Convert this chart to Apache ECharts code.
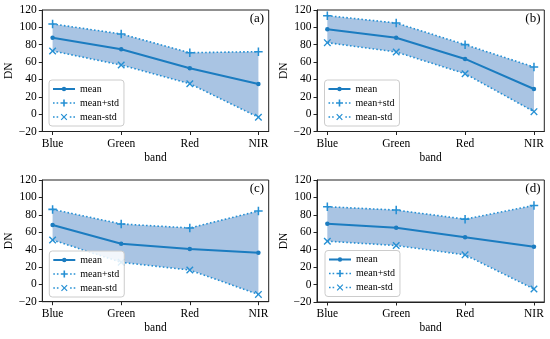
<!DOCTYPE html>
<html>
<head>
<meta charset="utf-8">
<script src="https://cdn.jsdelivr.net/npm/echarts@6/dist/echarts.min.js"></script>
<style>
html,body{margin:0;padding:0;background:#fff;}
#c{width:550px;height:339px;}
</style>
</head>
<body>
<div id="c"></div>
<script>
// ---- data ----
const categories = ['Blue', 'Green', 'Red', 'NIR'];
const yTicks = [-20, 0, 20, 40, 60, 80, 100, 120];
const panelLabels = ['(a)', '(b)', '(c)', '(d)'];

const meanA  = [88.1, 74.7, 52.8, 34.8];
const upperA = [103.9, 92.4, 70.8, 72.0];
const lowerA = [72.8, 56.6, 35.1, -3.6];

const meanB  = [97.8, 88.1, 63.6, 29.0];
const upperB = [113.5, 105.0, 80.1, 54.3];
const lowerB = [82.4, 71.6, 46.6, 2.9];

const meanC  = [68.2, 46.7, 40.6, 36.4];
const upperC = [86.2, 69.4, 64.8, 84.3];
const lowerC = [51.0, 25.3, 16.4, -11.6];

const meanD  = [69.8, 65.1, 54.4, 43.3];
const upperD = [89.3, 85.5, 75.1, 90.8];
const lowerD = [49.8, 44.8, 34.1, -5.1];

const panels = [
  {mean: meanA, upper: upperA, lower: lowerA},
  {mean: meanB, upper: upperB, lower: lowerB},
  {mean: meanC, upper: upperC, lower: lowerC},
  {mean: meanD, upper: upperD, lower: lowerD}
];

// ---- layout / style ----
const FONT = '"Liberation Serif", "Times New Roman", serif';
const lineColor = '#1b7cc0';
const dotColor = '#2690d4';
const fillColor = '#a9c4e3';
const axisColor = '#222';
const gridBoxes = [
  {left: 42.3, top: 10, width: 226.4, height: 121.5},
  {left: 317, top: 10, width: 227.3, height: 121.5},
  {left: 42.3, top: 180, width: 226.4, height: 121.7},
  {left: 317, top: 180, width: 227.3, height: 122}
];
const legendPos = [
  {left: 49, top: 80},
  {left: 324.5, top: 80},
  {left: 49.3, top: 251},
  {left: 325, top: 250.5}
];
const plusPath = 'path://M4.1,0H5.9V4.1H10V5.9H5.9V10H4.1V5.9H0V4.1H4.1Z';
const xPts = [[0,1.3],[1.3,0],[5,3.7],[8.7,0],[10,1.3],[6.3,5],[10,8.7],[8.7,10],[5,6.3],[1.3,10],[0,8.7],[3.7,5]];
const xPath = 'path://M' + xPts.map(p => p.join(',')).join('L') + 'Z';

// legend icons (22 x 10 box)
function sq(x, y, s) { return 'M' + x + ',' + y + 'h' + s + 'v' + s + 'h' + (-s) + 'Z'; }
const dotsIcon = sq(0, 4.2, 1.6) + sq(3.6, 4.2, 1.6) + sq(16.8, 4.2, 1.6) + sq(20.4, 4.2, 1.6);
const iconMean = 'path://M0,4.1H22V5.9H0Z M13.2,5A2.2,2.2,0,1,1,8.8,5A2.2,2.2,0,1,1,13.2,5Z';
const iconPlus = 'path://' + dotsIcon + 'M10.2,1.5H11.8V4.2H14.5V5.8H11.8V8.5H10.2V5.8H7.5V4.2H10.2Z';
const iconX = 'path://' + dotsIcon + 'M' + xPts.map(p => (p[0] * 0.65 + 7.75).toFixed(3) + ',' + (p[1] * 0.65 + 1.75).toFixed(3)).join('L') + 'Z';

const grid = [], xAxis = [], yAxis = [], series = [], legend = [], graphic = [];

panels.forEach((p, i) => {
  const g = gridBoxes[i];
  grid.push(Object.assign({show: true, borderColor: axisColor, borderWidth: 1, backgroundColor: 'transparent', containLabel: false}, g));
  xAxis.push({
    type: 'value', gridIndex: i, min: -0.15, max: 3.15,
    name: 'band', nameLocation: 'middle', nameGap: 20,
    nameTextStyle: {fontFamily: FONT, fontSize: 11.5, color: '#000'},
    axisLine: {show: true, onZero: false, lineStyle: {color: axisColor, width: 1}},
    axisTick: {show: true, length: 3.5, lineStyle: {color: axisColor}, customValues: [0, 1, 2, 3]},
    axisLabel: {margin: 6, fontFamily: FONT, fontSize: 11.5, color: '#000', customValues: [0, 1, 2, 3],
      formatter: v => categories[Math.round(v)]},
    splitLine: {show: false}
  });
  yAxis.push({
    type: 'value', gridIndex: i, min: yTicks[0], max: yTicks[yTicks.length - 1], interval: 20,
    name: 'DN', nameLocation: 'middle', nameGap: 26, nameRotate: 90,
    nameTextStyle: {fontFamily: FONT, fontSize: 11.5, color: '#000'},
    axisLine: {show: true, onZero: false, lineStyle: {color: axisColor, width: 1}},
    axisTick: {show: true, length: 3.5, lineStyle: {color: axisColor}},
    axisLabel: {margin: 5.5, fontFamily: FONT, fontSize: 11.5, color: '#000',
      formatter: v => (v < 0 ? '\u2212' + Math.abs(v) : String(v))},
    splitLine: {show: false}
  });
  // band fill between mean+std and mean-std
  series.push({
    type: 'custom', xAxisIndex: i, yAxisIndex: i, z: 1, silent: true,
    data: [[0, 0]],
    renderItem: (params, api) => {
      const pts = [];
      p.upper.forEach((v, k) => pts.push(api.coord([k, v])));
      for (let k = p.lower.length - 1; k >= 0; k--) pts.push(api.coord([k, p.lower[k]]));
      return {type: 'polygon', shape: {points: pts}, style: {fill: fillColor, stroke: 'none'}};
    }
  });
  series.push({
    name: 'mean', type: 'line', xAxisIndex: i, yAxisIndex: i, z: 4,
    data: p.mean.map((v, k) => [k, v]),
    symbol: 'circle', symbolSize: 4.5, showSymbol: true,
    lineStyle: {color: lineColor, width: 2},
    itemStyle: {color: lineColor},
    animation: false
  });
  series.push({
    name: 'mean+std', type: 'line', xAxisIndex: i, yAxisIndex: i, z: 3,
    data: p.upper.map((v, k) => [k, v]),
    symbol: plusPath, symbolSize: 8.5,
    lineStyle: {color: dotColor, width: 1.6, type: [1.6, 2.2]},
    itemStyle: {color: dotColor},
    animation: false
  });
  series.push({
    name: 'mean-std', type: 'line', xAxisIndex: i, yAxisIndex: i, z: 3,
    data: p.lower.map((v, k) => [k, v]),
    symbol: xPath, symbolSize: 7.5,
    lineStyle: {color: dotColor, width: 1.6, type: [1.6, 2.2]},
    itemStyle: {color: dotColor},
    animation: false
  });
  legend.push({
    data: [
      {name: 'mean', icon: iconMean, itemStyle: {color: lineColor, borderWidth: 0}},
      {name: 'mean+std', icon: iconPlus, itemStyle: {color: dotColor, borderWidth: 0}},
      {name: 'mean-std', icon: iconX, itemStyle: {color: dotColor, borderWidth: 0}}
    ],
    orient: 'vertical', left: legendPos[i].left, top: legendPos[i].top,
    itemWidth: 22, itemHeight: 10, itemGap: 4, padding: [4, 5, 4, 4],
    backgroundColor: 'rgba(255,255,255,0.85)', borderColor: '#cccccc', borderWidth: 1, borderRadius: 3,
    textStyle: {fontFamily: FONT, fontSize: 10, color: '#000'},
    selectedMode: false
  });
  graphic.push({
    type: 'text', left: g.left + g.width - 3 - 16, top: g.top + 2,
    style: {text: panelLabels[i], fontFamily: FONT, fontSize: 13, fill: '#000', textAlign: 'left'}
  });
});

const chart = echarts.init(document.getElementById('c'), null, {renderer: 'canvas'});
chart.setOption({
  animation: false,
  backgroundColor: '#fff',
  grid, xAxis, yAxis, series, legend, graphic
});
</script>
</body>
</html>
